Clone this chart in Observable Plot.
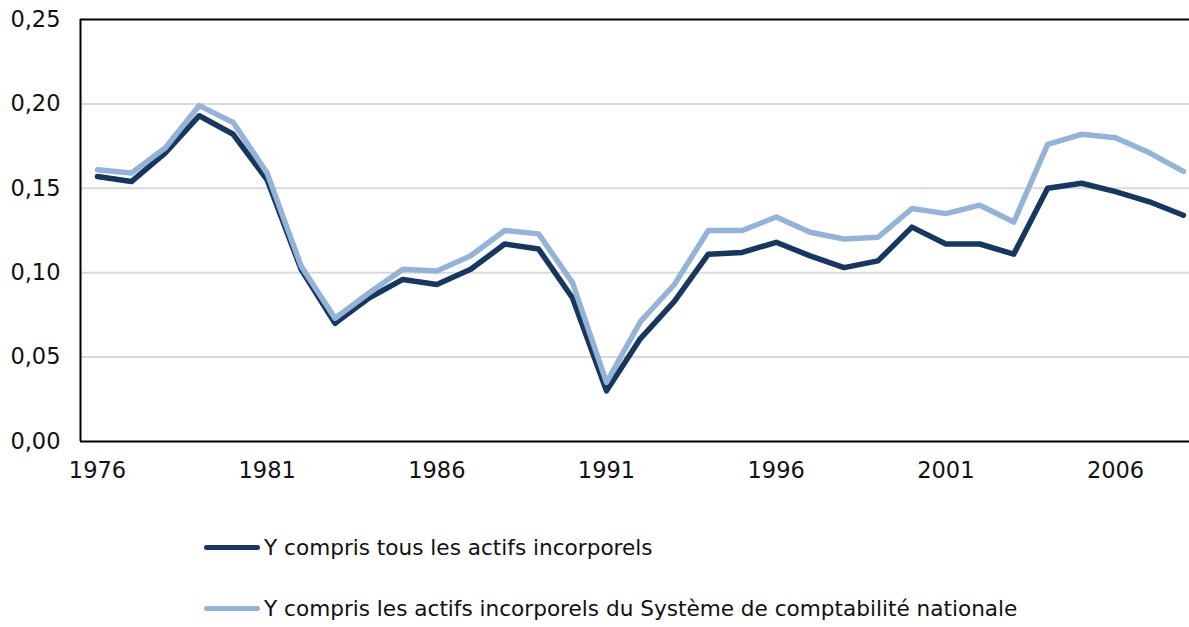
<!DOCTYPE html>
<html><head><meta charset="utf-8">
<script src="https://cdn.jsdelivr.net/npm/d3@7"></script>
<script src="https://cdn.jsdelivr.net/npm/@observablehq/plot@0.6"></script>
<style>
body{margin:0;background:#fff;font-family:"DejaVu Sans",Verdana,sans-serif;}
#wrap{position:relative;width:1189px;height:627px;overflow:hidden;}
.leg{position:absolute;left:204px;display:flex;align-items:center;font-size:21.6px;color:#111;white-space:nowrap;}
.leg span.sw{display:inline-block;width:56px;height:5px;border-radius:3px;margin-right:4px;}
</style></head>
<body><div id="wrap"></div>
<script>
const years = d3.range(1976, 2009);
const seriesNames = ["Y compris tous les actifs incorporels", "Y compris les actifs incorporels du Système de comptabilité nationale"];
const tousValues = [0.157,0.154,0.171,0.193,0.182,0.155,0.102,0.070,0.085,0.096,0.093,0.102,0.117,0.114,0.085,0.030,0.061,0.083,0.111,0.112,0.118,0.110,0.103,0.107,0.127,0.117,0.117,0.111,0.150,0.153,0.148,0.142,0.134];
const scnValues = [0.161,0.159,0.174,0.199,0.189,0.159,0.104,0.073,0.088,0.102,0.101,0.110,0.125,0.123,0.094,0.035,0.071,0.093,0.125,0.125,0.133,0.124,0.120,0.121,0.138,0.135,0.140,0.130,0.176,0.182,0.180,0.171,0.160];
const colors = ["#17375E", "#95B3D7"];
const yTicks = [0, 0.05, 0.10, 0.15, 0.20, 0.25];
const xTicks = [1976, 1981, 1986, 1991, 1996, 2001, 2006];

const data = [];
years.forEach((yr, i) => {
  data.push({year: yr, value: tousValues[i], series: seriesNames[0]});
  data.push({year: yr, value: scnValues[i], series: seriesNames[1]});
});

const fmt = v => v.toFixed(2).replace(".", ",");

const chart = Plot.plot({
  width: 1189, height: 500,
  marginLeft: 80, marginRight: 0, marginTop: 19, marginBottom: 59,
  style: {fontFamily: '"DejaVu Sans", Verdana, sans-serif', fontSize: "22.5px", color: "#111", background: "#fff"},
  x: {domain: [1975.5, 2008.18], ticks: xTicks, tickFormat: d => String(d), tickSize: 0, tickPadding: 21, label: null},
  y: {domain: [0, 0.25], ticks: yTicks, tickFormat: fmt, tickSize: 0, tickPadding: 20, label: null},
  color: {domain: seriesNames, range: colors},
  marks: [
    Plot.ruleY(yTicks.filter(t => t > 0 && t < 0.25), {stroke: "#d9d9d9", strokeWidth: 2}),
    Plot.ruleY([0.25], {stroke: "#000", strokeWidth: 2}),
    Plot.ruleY([0], {stroke: "#000", strokeWidth: 2}),
    Plot.ruleX([1975.5], {stroke: "#000", strokeWidth: 2}),
    Plot.line(data, {x: "year", y: "value", stroke: "series", z: "series", strokeWidth: 5.5, strokeLinejoin: "round", strokeLinecap: "round"})
  ]
});
const wrap = document.getElementById("wrap");
wrap.appendChild(chart);

seriesNames.forEach((name, i) => {
  const d = document.createElement("div");
  d.className = "leg";
  d.style.top = (i === 0 ? 535 : 596) + "px";
  const sw = document.createElement("span");
  sw.className = "sw";
  sw.style.background = colors[i];
  d.appendChild(sw);
  const t = document.createElement("span");
  t.textContent = name;
  d.appendChild(t);
  wrap.appendChild(d);
});
</script></body></html>
